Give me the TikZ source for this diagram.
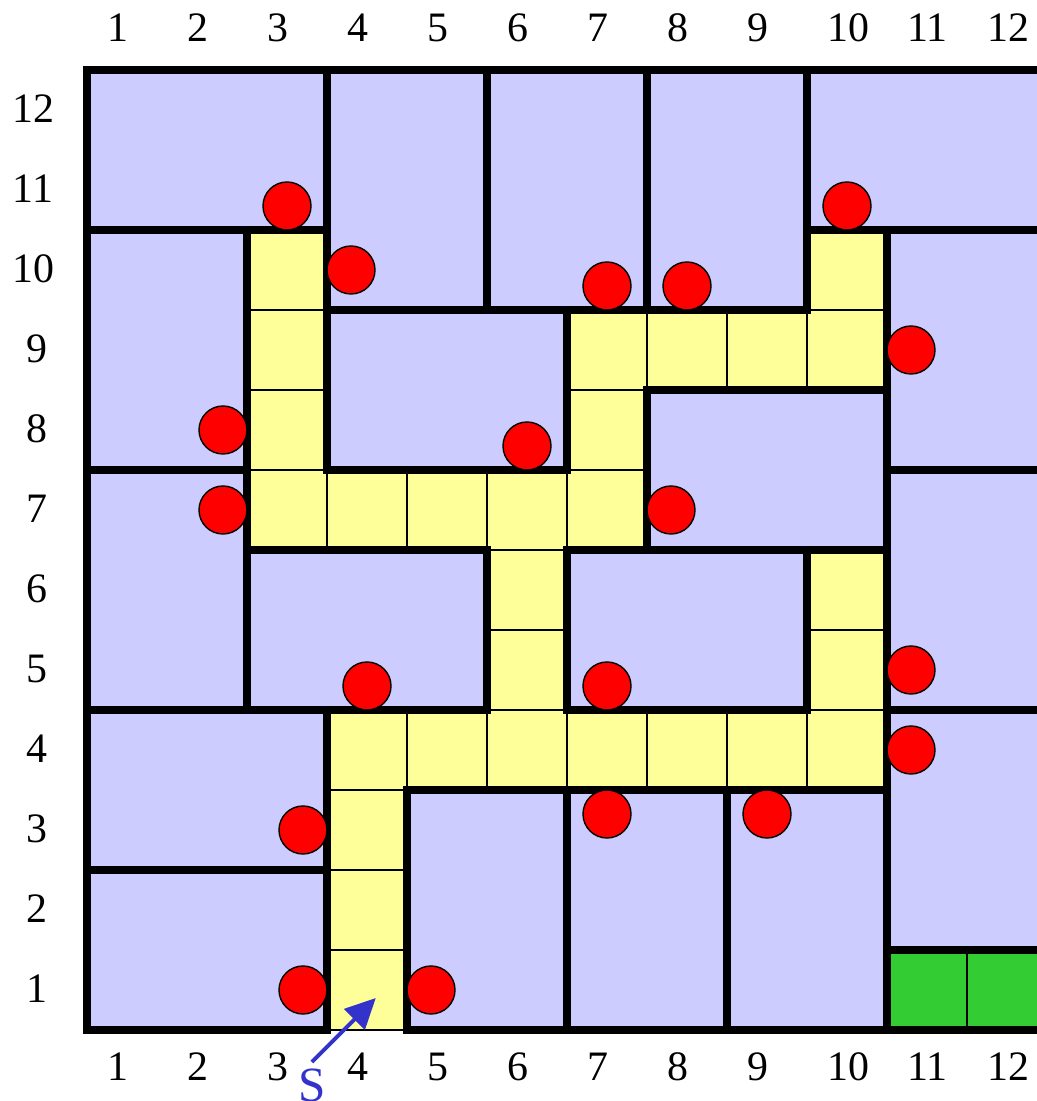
\documentclass[tikz,border=0pt]{standalone}
\usepackage{fontspec}
\setmainfont{Liberation Serif}
\usetikzlibrary{arrows.meta}
\definecolor{roomfill}{HTML}{CCCCFF}
\definecolor{pathfill}{HTML}{FFFF99}
\definecolor{exitfill}{HTML}{33CC33}
\definecolor{sblue}{HTML}{3333CC}
\tikzset{
  wall/.style={draw=black, line width=2.7pt, line cap=rect},
  cell/.style={fill=pathfill, draw=black, line width=0.7pt},
  exitcell/.style={fill=exitfill, draw=black, line width=0.7pt},
  ball/.style={circle, fill=red, draw=black, line width=0.5pt, minimum size=0.6cm, inner sep=0pt},
  num/.style={font=\fontsize{14.9}{18}\selectfont, inner sep=0pt, text depth=0pt},
  entry/.style={-{Triangle[length=3.8mm, width=3.6mm]}, draw=sblue, line width=1.4pt},
}

\begin{document}
\begin{tikzpicture}
\useasboundingbox (-1.0875,-0.8875) rectangle (11.875,12.875);
\fill[roomfill] (0,0) rectangle (12,12);
% corridor and exit
\foreach \x/\y in {3/10,3/9,3/8,3/7,4/7,5/7,6/7,7/7,7/8,7/9,8/9,9/9,10/9,10/10,
                   6/6,6/5,6/4,4/4,5/4,7/4,8/4,9/4,10/4,10/5,10/6,4/3,4/2,4/1}
  \draw[cell] (\x-1,\y-1) rectangle (\x,\y);
\foreach \x in {11,12}
  \draw[exitcell] (\x-1,0) rectangle (\x,1);
% walls
\draw[wall] (10,0) -- (12,0) -- (12,12) -- (0,12) -- (0,0) -- (3,0);
\draw[wall] (4,0) -- (10,0);
\draw[wall] (2,10) -- (2,4);
\draw[wall] (3,12) -- (3,7);
\draw[wall] (3,4) -- (3,0);
\draw[wall] (4,3) -- (4,0);
\draw[wall] (5,12) -- (5,9);
\draw[wall] (5,6) -- (5,4);
\draw[wall] (6,9) -- (6,7);
\draw[wall] (6,6) -- (6,4);
\draw[wall] (6,3) -- (6,0);
\draw[wall] (7,12) -- (7,9);
\draw[wall] (7,8) -- (7,6);
\draw[wall] (8,3) -- (8,0);
\draw[wall] (9,12) -- (9,9);
\draw[wall] (9,6) -- (9,4);
\draw[wall] (10,10) -- (10,0);
\draw[wall] (0,10) -- (3,10);
\draw[wall] (9,10) -- (12,10);
\draw[wall] (3,9) -- (9,9);
\draw[wall] (7,8) -- (10,8);
\draw[wall] (0,7) -- (2,7);
\draw[wall] (3,7) -- (6,7);
\draw[wall] (10,7) -- (12,7);
\draw[wall] (2,6) -- (5,6);
\draw[wall] (6,6) -- (10,6);
\draw[wall] (0,4) -- (5,4);
\draw[wall] (6,4) -- (9,4);
\draw[wall] (10,4) -- (12,4);
\draw[wall] (4,3) -- (10,3);
\draw[wall] (0,2) -- (3,2);
\draw[wall] (10,1) -- (12,1);
% balls
\foreach \x/\y [count=\i] in {2.5/10.3,3.3/9.5,9.5/10.3,6.5/9.3,7.5/9.3,10.3/8.5,
                              1.7/7.5,5.5/7.3,1.7/6.5,7.3/6.5,3.5/4.3,6.5/4.3,
                              10.3/4.5,10.3/3.5,2.7/2.5,6.5/2.7,8.5/2.7,2.7/0.5,4.3/0.5}
  \node[ball] (ball\i) at (\x,\y) {};
% numbering
\foreach \c in {1,...,12} {
  \node[num, anchor=west] (top\c) at (\c-0.75,12.53) {\c};
  \node[num, anchor=west] (bot\c) at (\c-0.75,-0.46) {\c};
}
\foreach \r in {1,...,9}
  \node[num] (row\r) at (-0.625,\r-0.48) {\r};
\foreach \r in {10,11,12}
  \node[num] (row\r) at (-0.675,\r-0.48) {\r};
% start
\coordinate (entry) at (3.61,0.4);
\node[num, font=\fontsize{17.5}{20}\selectfont, text=sblue, anchor=north, outer sep=0.09cm] (start) at (2.81,-0.4) {S};
\draw[entry] (start.north) -- (entry);
\end{tikzpicture}
\end{document}
